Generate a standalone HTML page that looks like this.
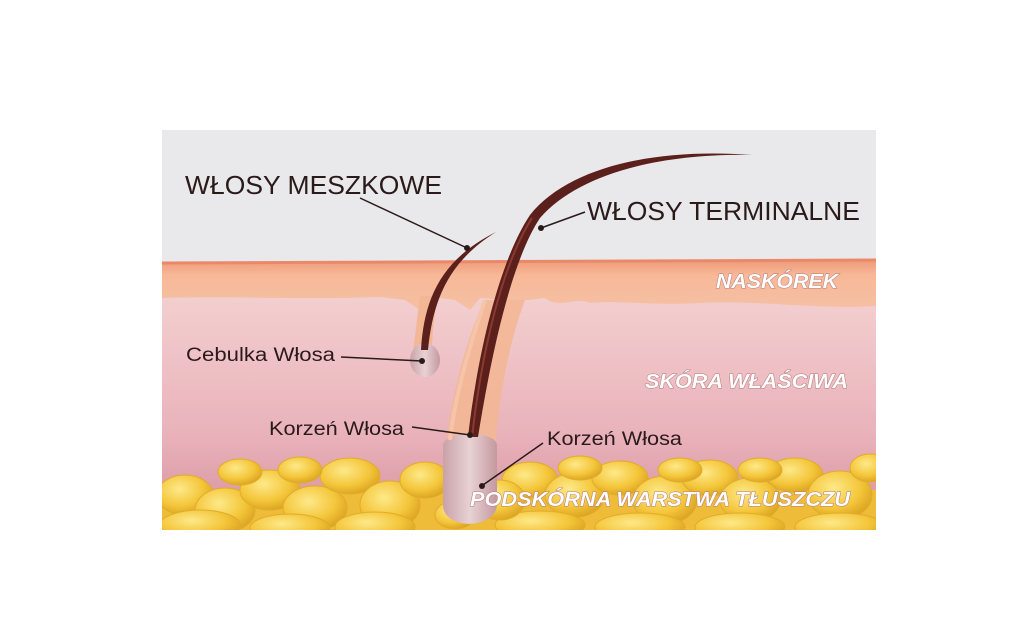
<!DOCTYPE html>
<html><head><meta charset="utf-8"><style>
html,body{margin:0;padding:0;background:#fff;width:1024px;height:621px;overflow:hidden}
svg{display:block}
</style></head><body>
<svg width="1024" height="621" viewBox="0 0 1024 621" xmlns="http://www.w3.org/2000/svg">
<defs>
<linearGradient id="derm" x1="0" y1="0" x2="0" y2="1">
<stop offset="0" stop-color="#f3cfd0"/><stop offset="0.6" stop-color="#e9b2ba"/><stop offset="1" stop-color="#d48e9d"/>
</linearGradient>
<linearGradient id="epi" x1="0" y1="0" x2="0" y2="1">
<stop offset="0" stop-color="#ee9a78"/><stop offset="0.3" stop-color="#f7b898"/><stop offset="1" stop-color="#f6c0a4"/>
</linearGradient>
<radialGradient id="fat" cx="0.4" cy="0.35" r="0.7">
<stop offset="0" stop-color="#fde98a"/><stop offset="0.6" stop-color="#f4c63a"/><stop offset="1" stop-color="#d9a020"/>
</radialGradient>
<linearGradient id="bulb" x1="0" y1="0" x2="1" y2="0">
<stop offset="0" stop-color="#c9a2a8"/><stop offset="0.5" stop-color="#e8d2d4"/><stop offset="1" stop-color="#c4989f"/>
</linearGradient>
<clipPath id="panel"><rect x="162" y="130" width="714" height="400"/></clipPath>
</defs>
<g clip-path="url(#panel)">
<rect x="162" y="130" width="714" height="400" fill="#e9e8ea"/>
<rect x="162" y="295" width="714" height="235" fill="url(#derm)"/>
<path d="M162 263 L876 260 L876 306 C820 310 760 300 700 303 C650 306 620 300 590 303 C575 296 560 310 545 298 L530 300 L505 300 L480 298 L470 310 L455 300 L440 298 L420 310 L405 300 L380 297 C300 300 240 296 162 298 Z" fill="url(#epi)"/>
<path d="M162 263 L876 260" stroke="#e9896a" stroke-width="3"/>
<rect x="162" y="490" width="714" height="40" fill="#eebc38"/>
<g fill="url(#fat)" stroke="#e0ac2a" stroke-width="1">
<ellipse cx="185" cy="495" rx="28" ry="20"/><ellipse cx="225" cy="510" rx="30" ry="22"/>
<ellipse cx="270" cy="490" rx="30" ry="20"/><ellipse cx="315" cy="508" rx="32" ry="22"/>
<ellipse cx="350" cy="476" rx="30" ry="18"/><ellipse cx="390" cy="505" rx="30" ry="24"/>
<ellipse cx="425" cy="480" rx="25" ry="18"/><ellipse cx="200" cy="525" rx="40" ry="15"/>
<ellipse cx="290" cy="528" rx="40" ry="14"/><ellipse cx="375" cy="527" rx="40" ry="15"/>
<ellipse cx="530" cy="480" rx="28" ry="18"/><ellipse cx="575" cy="495" rx="30" ry="22"/>
<ellipse cx="620" cy="478" rx="28" ry="17"/><ellipse cx="665" cy="500" rx="32" ry="24"/>
<ellipse cx="710" cy="478" rx="28" ry="18"/><ellipse cx="750" cy="500" rx="30" ry="22"/>
<ellipse cx="795" cy="475" rx="28" ry="17"/><ellipse cx="840" cy="495" rx="32" ry="24"/>
<ellipse cx="870" cy="468" rx="20" ry="14"/><ellipse cx="540" cy="525" rx="45" ry="14"/>
<ellipse cx="640" cy="527" rx="45" ry="14"/><ellipse cx="740" cy="527" rx="45" ry="14"/>
<ellipse cx="840" cy="527" rx="45" ry="14"/><ellipse cx="500" cy="500" rx="25" ry="20"/>
<ellipse cx="240" cy="472" rx="22" ry="13"/><ellipse cx="300" cy="470" rx="22" ry="13"/>
<ellipse cx="580" cy="468" rx="22" ry="12"/><ellipse cx="680" cy="470" rx="22" ry="12"/>
<ellipse cx="760" cy="470" rx="22" ry="12"/><ellipse cx="455" cy="515" rx="20" ry="14"/>
</g>
</g>
<path d="M446 440 C455 380 470 330 485 300 L525 300 C510 340 500 390 496 440 Z" fill="#f3b795" opacity="0.9"/>
<path d="M443 445 L443 505 C443 530 495 530 497 505 L497 445 C495 430 445 430 443 445 Z" fill="url(#bulb)"/>
<path d="M450 440 C455 395 470 345 485 300" stroke="#f6c4a8" stroke-width="4" fill="none"/>
<path d="M413 352 C416 330 418 310 420 296 L438 296 C434 315 432 335 432 352 Z" fill="#f3b795"/>
<ellipse cx="425" cy="360" rx="15" ry="17" fill="url(#bulb)"/>
<path d="M468 437 C478 350 500 260 530 215 C570 165 660 148 752 155 C665 153 580 172 540 218 C512 260 492 350 478 437 Z" fill="#5b1f1c"/>
<path d="M472 437 C482 350 502 265 532 218" stroke="#8a3a30" stroke-width="2" fill="none"/>
<path d="M421 350 C424 300 440 260 496 232 C448 262 433 300 428 350 Z" fill="#5b1f1c"/>
<g stroke="#2a1a1a" stroke-width="1.5" fill="none">
<line x1="360" y1="198" x2="467" y2="248"/>
<line x1="585" y1="212" x2="541" y2="228"/>
<line x1="341" y1="357" x2="422" y2="361"/>
<line x1="412" y1="427" x2="470" y2="435"/>
<line x1="543" y1="443" x2="483" y2="485"/>
</g>
<g fill="#2a1a1a"><circle cx="467" cy="248" r="3"/><circle cx="541" cy="228" r="3"/><circle cx="422" cy="361" r="3"/><circle cx="470" cy="435" r="3"/><circle cx="482" cy="486" r="3"/></g>
<g font-family="Liberation Sans, sans-serif" fill="#2a1a1a">
<text x="185" y="194" font-size="26" textLength="257" lengthAdjust="spacingAndGlyphs">WŁOSY MESZKOWE</text>
<text x="587" y="220" font-size="26" textLength="273" lengthAdjust="spacingAndGlyphs">WŁOSY TERMINALNE</text>
<text x="186" y="361" font-size="19" textLength="149" lengthAdjust="spacingAndGlyphs">Cebulka Włosa</text>
<text x="269" y="435" font-size="19" textLength="135" lengthAdjust="spacingAndGlyphs">Korzeń Włosa</text>
<text x="547" y="445" font-size="19" textLength="135" lengthAdjust="spacingAndGlyphs">Korzeń Włosa</text>
</g>
<g font-family="Liberation Sans, sans-serif" font-weight="bold" font-style="italic" fill="#fff" style="paint-order:stroke" stroke="#b77a7a" stroke-width="1">
<text x="716" y="288" font-size="20" textLength="122" lengthAdjust="spacingAndGlyphs">NASKÓREK</text>
<text x="645" y="388" font-size="20" textLength="203" lengthAdjust="spacingAndGlyphs">SKÓRA WŁAŚCIWA</text>
<text x="470" y="506" font-size="20" textLength="380" lengthAdjust="spacingAndGlyphs">PODSKÓRNA WARSTWA TŁUSZCZU</text>
</g>
</svg>
</body></html>
